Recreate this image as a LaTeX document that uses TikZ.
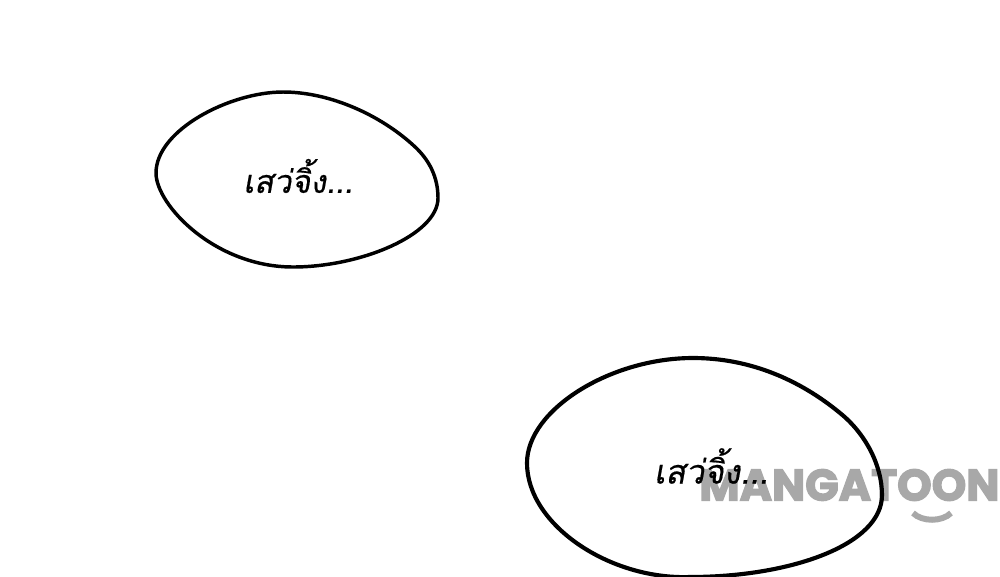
\documentclass[tikz,border=0pt]{standalone}
\usepackage{fontspec}
\newfontfamily\thaifont[Script=Thai,FakeSlant=0.18,FakeBold=0.5]{Loma}
\newfontfamily\markfont[FakeBold=3]{Poppins Bold}
\definecolor{markgrey}{gray}{0.66}
\tikzset{x=0.75pt,y=-0.75pt,
  blob/.style={draw=black,line join=round},
  speech/.style={text=black,inner sep=0pt}}
\begin{document}
\begin{tikzpicture}
\path[use as bounding box] (0,0) rectangle (1000,576);
\clip (0,0) rectangle (1000,576);
\node[anchor=west,inner sep=0pt,text=markgrey,font=\markfont\fontsize{33}{35}\selectfont] (wm) at (699,485) {MANGATOON};
\draw[markgrey,line width=4.5pt] (913,513) .. controls (922,522) and (942,522) .. (951,513);
\draw[blob,line width=2.6pt] (156,173) .. controls (156,130) and (230,92) .. (283,92) .. controls (330,92) and (380,115) .. (413,145) .. controls (430,160) and (438,178) .. (438,198) .. controls (438,235) and (360,267) .. (293,267) .. controls (215,267) and (156,205) .. (156,173) -- cycle;
\draw[blob,line width=3.1pt] (527,463) .. controls (527,410) and (610,358) .. (693,358) .. controls (750,358) and (800,380) .. (840,413) .. controls (865,433) and (882,465) .. (882,495) .. controls (882,545) and (790,577) .. (690,577) .. controls (610,580) and (527,525) .. (527,463) -- cycle;
\node[speech,font=\thaifont\fontsize{24}{26}\selectfont] (t1) at (298,176) {เสว่จิ้ง...};
\node[speech,font=\thaifont\fontsize{25}{27}\selectfont] (t2) at (711,466) {เสว่จิ้ง...};
\end{tikzpicture}
\end{document}
